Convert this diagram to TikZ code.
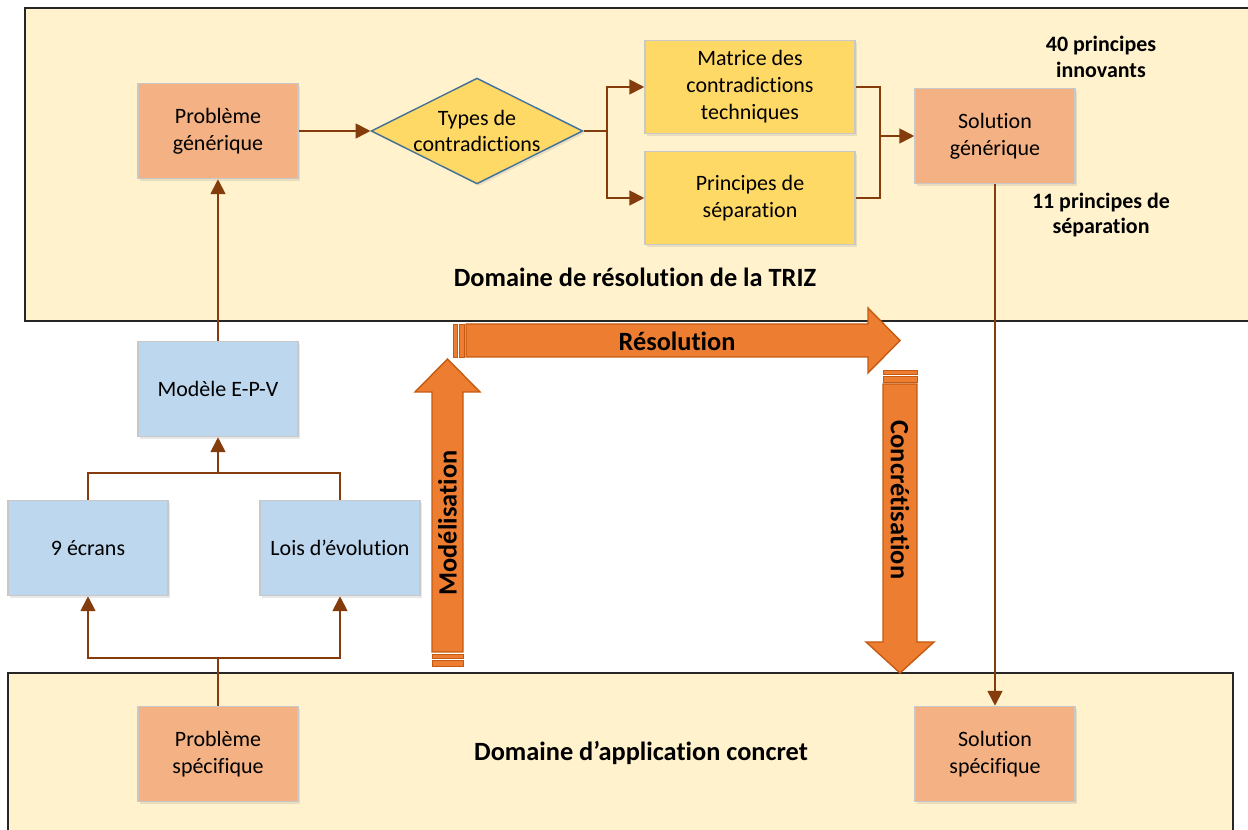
\documentclass[tikz,border=0pt]{standalone}
\usepackage{fontspec}
\setmainfont{Carlito}[Ligatures={NoCommon}]
\usetikzlibrary{shapes.geometric, arrows.meta, positioning, shadows}

\definecolor{panelfill}{HTML}{FFF2CC}
\definecolor{salmon}{HTML}{F4B183}
\definecolor{paleblue}{HTML}{BDD7EE}
\definecolor{gold}{HTML}{FFD966}
\definecolor{boxline}{HTML}{C8C8C8}
\definecolor{diamondline}{HTML}{41719C}
\definecolor{linkbrown}{HTML}{843C0C}
\definecolor{bigorange}{HTML}{ED7D31}
\definecolor{bigline}{HTML}{C55A11}

\tikzset{
  panel/.style={draw=black!85, line width=1.2pt, fill=panelfill},
  box/.style={draw=boxline, line width=0.9pt, align=center, inner sep=0pt,
    minimum width=3.2cm, minimum height=1.9cm,
    drop shadow={shadow xshift=1.2pt, shadow yshift=-1.2pt, opacity=.18}},
  widebox/.style={box, minimum width=4.2cm, minimum height=1.86cm},
  link/.style={draw=linkbrown, line width=1.1pt},
  bigarrow/.style={fill=bigorange, draw=bigline, line width=0.8pt},
  stripe/.style={fill=bigorange, draw=bigline, line width=0.5pt},
  biglabel/.style={font=\bfseries\fontsize{15}{18}\selectfont},
  sidenote/.style={font=\bfseries\fontsize{12.5}{14.5}\selectfont, align=center}
}

\begin{document}
\begin{tikzpicture}[x=0.02cm, y=-0.02cm, >={Triangle[length=8.5pt,width=8.5pt]},
  font=\fontsize{12.5}{15.3}\selectfont]
\useasboundingbox (0,0) rectangle (1248,830);
\clip (0,0) rectangle (1248,830);

% domaines
\draw[panel] (25,8) rectangle (1262,321);
\draw[panel] (8,673) rectangle (1233,845);
\node[biglabel] (triz) at (635,277) {Domaine de résolution de la TRIZ};
\node[biglabel] (concret) at (641,753) {Domaine d’application concret};

% boites
\node[box, fill=salmon] (pgen) at (218,131) {Problème\\générique};
\node[draw=diamondline, line width=0.8pt, fill=gold, diamond, aspect=2, inner sep=0pt,
  minimum width=4.2cm, minimum height=2.08cm, align=center,
  drop shadow={shadow xshift=1.2pt, shadow yshift=-1.2pt, opacity=.18}]
  (types) at (477,131) {Types de\\contradictions};
\node[widebox, fill=gold] (matrice) at (750,87) {Matrice des\\contradictions\\techniques};
\node[widebox, fill=gold] (sep) at (750,198) {Principes de\\séparation};
\node[box, fill=salmon] (sgen) at (995,136) {Solution\\générique};
\node[sidenote] (innov) at (1101,57) {40 principes\\innovants};
\node[sidenote] (sepnote) at (1101,215) {11 principes de\\séparation};

\node[box, fill=paleblue] (epv) at (218,389) {Modèle E-P-V};
\node[box, fill=paleblue] (ecrans) at (88,548) {9 écrans};
\node[box, fill=paleblue] (lois) at (340,548) {Lois d’évolution};
\node[box, fill=salmon] (pspec) at (218,754) {Problème\\spécifique};
\node[box, fill=salmon] (sspec) at (995,754) {Solution\\spécifique};

\coordinate (split1) at (607,131);
\coordinate (join1) at (880,136);
\coordinate (fork1) at (218,473);
\coordinate (fork2) at (218,658);

% liaisons
\draw[link, ->] (pgen) -- (types);
\draw[link] (types.east) -- (split1);
\draw[link, ->] (split1) |- (matrice);
\draw[link, ->] (split1) |- (sep);
\draw[link] (matrice.east) -| (join1) |- (sep.east);
\draw[link, ->] (join1) -- (sgen);
\draw[link, ->] (epv) -- (pgen);
\draw[link] (ecrans.north) |- (fork1) -| (lois.north);
\draw[link, ->] (fork1) -- (epv);
\draw[link] (pspec) -- (fork2);
\draw[link, ->] (fork2) -| (ecrans);
\draw[link, ->] (fork2) -| (lois);
\draw[link, ->] (sgen) -- (sspec);

% grandes fleches
\draw[bigarrow] (466,324) -- (868,324) -- (868,308) -- (900,340.5) -- (868,373)
  -- (868,357) -- (466,357) -- cycle;
\draw[stripe] (453,324) rectangle (457,357);
\draw[stripe] (459,324) rectangle (464,357);
\node[biglabel] (resol) at (677,341) {Résolution};

\draw[bigarrow] (432,652) -- (432,392) -- (415,392) -- (447.5,359) -- (480,392)
  -- (463,392) -- (463,652) -- cycle;
\draw[stripe] (432,654) rectangle (463,658);
\draw[stripe] (432,660) rectangle (463,666);
\node[biglabel, rotate=90] (model) at (447.5,523) {Modélisation};

\draw[bigarrow] (883,384) -- (883,642) -- (866,642) -- (900,673) -- (934,642)
  -- (917,642) -- (917,384) -- cycle;
\draw[stripe] (883,370) rectangle (917,374);
\draw[stripe] (883,376) rectangle (917,382);
\node[biglabel, rotate=-90] (concr) at (900,500) {Concrétisation};
\end{tikzpicture}
\end{document}
